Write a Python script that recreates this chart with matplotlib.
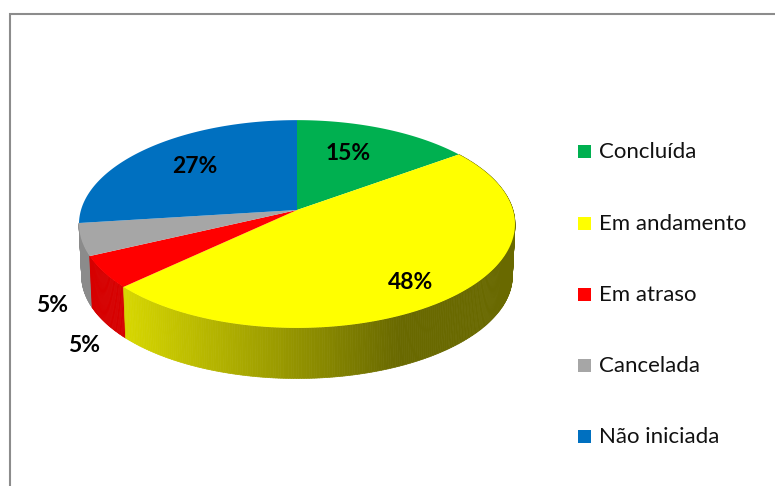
import numpy as np
import matplotlib
matplotlib.use('Agg')
import matplotlib.pyplot as plt
from matplotlib.collections import PolyCollection

categories = ['Concluída', 'Em andamento', 'Em atraso', 'Cancelada', 'Não iniciada']
values = [15, 48, 5, 5, 27]
pct_labels = ['15%', '48%', '5%', '5%', '27%']
colors = ['#00B050', '#FFFF00', '#FF0000', '#A6A6A6', '#0070C0']

plt.rcParams['font.family'] = ['Lato', 'DejaVu Sans']

# axes in picture pixels
fig = plt.figure(figsize=(7.75, 4.86), dpi=100)
ax = fig.add_axes([0, 0, 1, 1])
ax.set_xlim(0, 775)
ax.set_ylim(486, 0)
ax.axis('off')

# chart frame, only left and top are in the crop
ax.plot([9.5, 9.5, 775], [486, 14.5, 14.5], color='#8C8C8C', lw=1.5, solid_joinstyle='miter')

cx, cy = 297, 210
rx, ry = 216, 102
k = 0.135
depth = 52


def project(t, scale=1.0):
    # t clockwise from 12 o'clock, with a bit of perspective
    u, v = np.sin(t), np.cos(t)
    s = 1 / (1 + k * v)
    return cx + rx * scale * u * s, cy - ry * scale * v * s


def shade(x):
    return np.interp(x, [127, 300, 400], [0.84, 0.57, 0.41])


edges = np.cumsum([0] + values) / sum(values) * 2 * np.pi

# side wall, strips back to front
for i in [3, 2, 1]:
    ts = np.linspace(edges[i], edges[i + 1], int(values[i] * 6) + 2)
    polys, cols = [], []
    base = np.array(matplotlib.colors.to_rgb(colors[i]))
    for a, b in zip(ts[:-1], ts[1:]):
        xa, ya = project(a)
        xb, yb = project(b)
        xa2, ya2 = project(a, 0.988)
        xb2, yb2 = project(b, 0.988)
        polys.append([(xa, ya), (xb, yb), (xb2, yb2 + depth), (xa2, ya2 + depth)])
        cols.append(base * shade((xa + xb) / 2))
    ax.add_collection(PolyCollection(polys, facecolors=cols, edgecolors='face', linewidths=0.5))

# top face
for i, c in enumerate(colors):
    ts = np.linspace(edges[i], edges[i + 1], 120)
    xs, ys = project(ts)
    ax.fill(np.r_[cx, xs], np.r_[cy, ys], color=c, lw=0)

# value labels
label_x = [348, 411, 84, 52, 195]
label_y = [153, 282, 345, 305, 166]
for x, y, t in zip(label_x, label_y, pct_labels):
    ax.text(x, y, t, fontsize=16.5, fontweight='bold', color='black', ha='center', va='center')

# legend
legend_y = [151.5, 223, 294, 365, 436]
for y, name, c in zip(legend_y, categories, colors):
    ax.fill([578, 591, 591, 578], [y - 6.5, y - 6.5, y + 6.5, y + 6.5], color=c, lw=0)
    ax.text(599, y + 0.5, name, fontsize=16, color='#111111', ha='left', va='center')

fig.savefig('out.png', dpi=100)
